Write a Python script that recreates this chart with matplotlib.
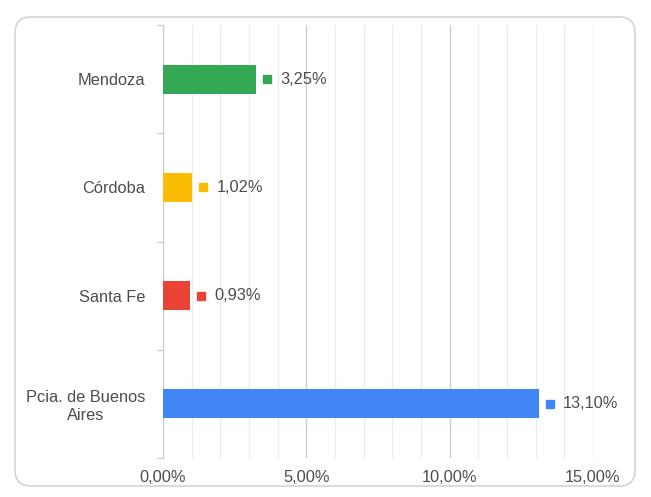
import matplotlib
matplotlib.use("Agg")
import matplotlib.pyplot as plt
import matplotlib.transforms as mtransforms
from matplotlib.patches import FancyBboxPatch
from matplotlib.ticker import MultipleLocator, FuncFormatter

# data, bottom to top
provincias = ["Pcia. de Buenos\nAires", "Santa Fe", "Córdoba", "Mendoza"]
valores = [13.10, 0.93, 1.02, 3.25]
colores = ["#4285F4", "#EA4335", "#FBBC04", "#34A853"]

plt.rcParams["font.family"] = ["Liberation Sans", "DejaVu Sans"]
texto = "#4d4d4d"
fs = 11.8

fig = plt.figure(figsize=(6.51, 4.97), dpi=100)
ax = fig.add_axes([163 / 651, 1 - 458 / 497, (593 - 163) / 651, (458 - 25) / 497])

# rounded frame around the chart
marco = FancyBboxPatch((15, 11), 620, 469, boxstyle="round,pad=0,rounding_size=16",
                       transform=mtransforms.IdentityTransform(),
                       facecolor="none", edgecolor="#d4d4d4", lw=1.2)
fig.patches.append(marco)

pos = list(range(len(provincias)))
ax.barh(pos, valores, height=0.27, color=colores, zorder=3)

# data labels with little colour keys
for y, v, c in zip(pos, valores, colores):
    tr = mtransforms.offset_copy(ax.transData, fig=fig, x=11, y=0, units="dots")
    ax.plot([v], [y], marker="s", ms=5.5, color=c, transform=tr, zorder=4, clip_on=False)
    ax.annotate(f"{v:.2f}%".replace(".", ","), (v, y), xytext=(17.5, 0),
                textcoords="offset points", va="center", ha="left",
                fontsize=fs, color=texto)

ax.set_xlim(0, 15)
ax.set_ylim(-0.5, 3.5)
ax.xaxis.set_major_locator(MultipleLocator(5))
ax.xaxis.set_minor_locator(MultipleLocator(1))
ax.xaxis.set_major_formatter(FuncFormatter(lambda x, p: f"{x:.2f}%".replace(".", ",")))
ax.xaxis.grid(True, which="major", color="#cccccc", lw=1, zorder=0)
ax.xaxis.grid(True, which="minor", color="#ebebeb", lw=1, zorder=0)
ax.tick_params(axis="x", which="both", length=0, pad=9, labelsize=fs, labelcolor=texto)

ax.set_yticks(pos)
ax.set_yticklabels(provincias, multialignment="center")
ax.set_yticks([-0.5, 0.5, 1.5, 2.5, 3.5], minor=True)
ax.tick_params(axis="y", which="major", length=0, pad=13, labelsize=fs, labelcolor=texto)
ax.tick_params(axis="y", which="minor", length=4, color="#cccccc", width=1)

for s in ["top", "right", "bottom"]:
    ax.spines[s].set_visible(False)
ax.spines["left"].set_color("#cccccc")

fig.savefig("out.png", dpi=100)
